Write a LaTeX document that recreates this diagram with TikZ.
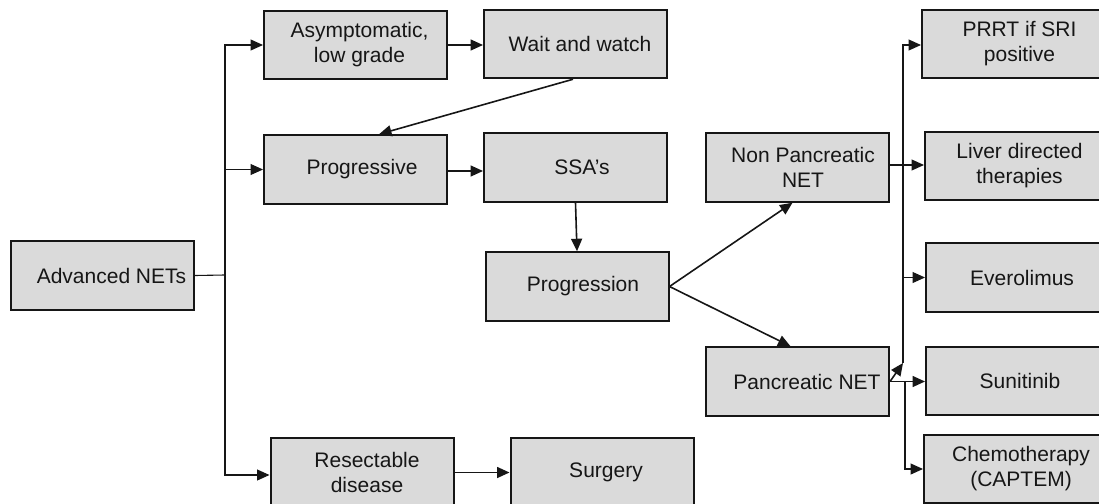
\documentclass[tikz,border=0pt]{standalone}
\usepackage{fontspec}
\setmainfont{Liberation Sans}
\usetikzlibrary{arrows.meta}
\definecolor{boxfill}{RGB}{218,218,218}
\definecolor{ink}{RGB}{22,22,22}
\begin{document}
\begin{tikzpicture}[x=1pt,y=-1pt,
  box/.style={draw=ink, line width=2pt, fill=boxfill, minimum width=183pt, minimum height=68.5pt, inner sep=0pt},
  txt/.style={text=ink, align=center, font=\fontsize{21}{25}\selectfont, inner sep=0pt},
  conn/.style={draw=ink, line width=1.6pt},
  thin/.style={draw=ink, line width=1.1pt},
  arr/.style={-{Triangle[length=12.5pt,width=11pt]}}]
\clip (0,0) rectangle (1099,503);
% boxes
\node[box, label={[txt,xshift=9pt]center:Advanced NETs}] (adv) at (102.5,275.5) {};
\node[box, label={[txt,xshift=4pt]center:{Asymptomatic,\\low grade}}] (asym) at (355.5,45) {};
\node[box, label={[txt,xshift=4.5pt]center:Wait and watch}] (wait) at (575.5,44) {};
\node[box, label={[txt,xshift=6.5pt]center:Progressive}] (prog) at (355.5,169.5) {};
\node[box, label={[txt,xshift=6.5pt]center:SSA’s}] (ssa) at (575.5,167.5) {};
\node[box, label={[txt,xshift=6pt]center:Progression}] (progn) at (577,286.5) {};
\node[box, label={[txt,xshift=5pt]center:{Resectable\\disease}}] (resect) at (362,472.5) {};
\node[box, label={[txt,xshift=4pt]center:Surgery}] (surg) at (602,472.5) {};
\node[box, label={[txt,xshift=5.5pt]center:{Non Pancreatic\\NET}}] (nonp) at (797.5,167.5) {};
\node[box, label={[txt,xshift=9.5pt]center:Pancreatic NET}] (panc) at (797.5,381.5) {};
\node[box, label={[txt,xshift=6pt]center:{PRRT if SRI\\positive}}] (prrt) at (1013.5,44) {};
\node[box, label={[txt,xshift=3pt]center:{Liver directed\\therapies}}] (liver) at (1016.5,166) {};
\node[box, label={[txt,xshift=4.5pt]center:Everolimus}] (ever) at (1017.5,277.5) {};
\node[box, label={[txt,xshift=2.5pt]center:Sunitinib}] (suni) at (1017.5,381) {};
\node[box, label={[txt,xshift=5.5pt]center:{Chemotherapy\\(CAPTEM)}}] (chemo) at (1015.5,469) {};
% junction coordinates
\coordinate (tj) at (225,275);
\coordinate (rv) at (903,363);
\coordinate (cv) at (905,381.5);
% left trunk
\draw[thin] (adv.east) -- (tj);
\draw[thin,arr] (tj) |- (asym.west);
\draw[thin,arr] (tj) |- (prog.west);
\draw[thin,arr] (tj) |- ([yshift=-2.5pt]resect.west);
% main flow
\draw[conn,arr] (asym.east) -- (asym.east -| wait.west);
\draw[conn,arr] ([xshift=-2.5pt]wait.south) -- ([xshift=23.5pt]prog.north);
\draw[conn,arr] ([yshift=-1.5pt]prog.east) -- ([yshift=-1.5pt]prog.east -| ssa.west);
\draw[conn,arr] (ssa.south) -- (progn.north);
\draw[conn,arr] (resect.east) -- (resect.east -| surg.west);
\draw[conn,arr] (progn.east) -- ([xshift=-5pt]nonp.south);
\draw[conn,arr] (progn.east) -- ([xshift=-7pt]panc.north);
% right side
\draw[thin,arr] ([yshift=2.5pt]nonp.east) -- ([yshift=2.5pt]nonp.east -| liver.west);
\draw[conn,arr] (panc.east) -- (rv);
\draw[thin,arr] (rv) |- ([yshift=-1pt]prrt.west);
\draw[thin,arr] (rv |- ever.west) -- (ever.west);
\draw[conn,arr] (panc.east) -- (panc.east -| suni.west);
\draw[thin,arr] (cv) |- (chemo.west);
\end{tikzpicture}
\end{document}
